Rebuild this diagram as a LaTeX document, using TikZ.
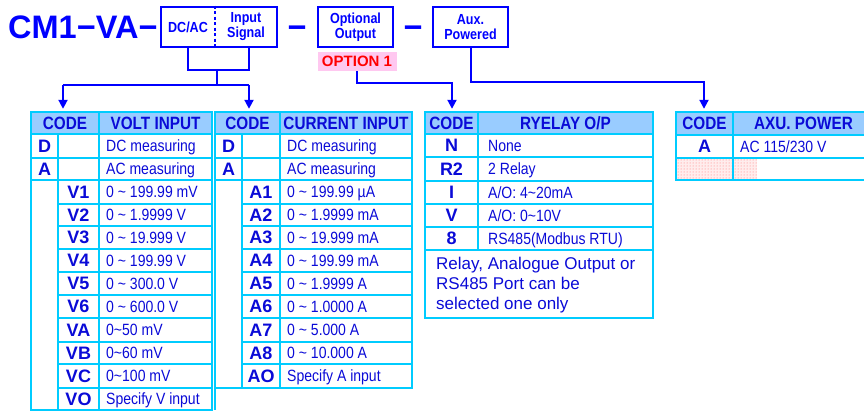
\documentclass[tikz,border=0pt]{standalone}
\usepackage{fontspec}
\setmainfont{Liberation Sans}
\newfontfamily\nf[FakeStretch=0.86]{Liberation Sans}
\usetikzlibrary{arrows.meta,patterns}
\definecolor{lnblue}{RGB}{0,0,255}
\definecolor{txtblue}{RGB}{10,10,215}
\definecolor{tblcyan}{RGB}{0,204,255}
\definecolor{hdrfill}{RGB}{153,204,255}
\definecolor{optpink}{RGB}{255,200,240}
\definecolor{optred}{RGB}{255,0,0}
\tikzset{
  tline/.style={draw=tblcyan, line width=2.4pt},
  conn/.style={draw=lnblue, line width=2pt},
  arr/.style={conn, -{Triangle[width=9pt,length=9pt]}, shorten >=3pt},
  codebox/.style={draw=lnblue, line width=2.6pt, inner sep=0pt},
  boxtxt/.style={text=lnblue, font=\nf\bfseries\fontsize{14.6}{15}\selectfont, align=center, inner sep=0pt},
  hdr/.style={text=txtblue, font=\nf\bfseries\fontsize{17.8}{18}\selectfont, inner sep=0pt, text depth=0pt},
  code/.style={text=txtblue, font=\bfseries\fontsize{18}{18}\selectfont, inner sep=0pt, text height=12.9pt, text depth=0pt},
  desc/.style={text=txtblue, font=\nf\fontsize{16.3}{17}\selectfont, inner sep=0pt, anchor=west, text height=11.7pt, text depth=0pt},
}
\begin{document}
\begin{tikzpicture}[x=1pt,y=-1pt]
\clip (0,0) rectangle (864,412);
\useasboundingbox (0,0) rectangle (864,412);

% ---------- code line ----------
\node[anchor=base west, inner sep=0pt, text=lnblue, font=\bfseries\fontsize{32.5}{34}\selectfont] (title) at (8,39) {CM1−VA−};
\node[codebox, minimum width=116, minimum height=40] (b1) at (219,27) {};
\draw[lnblue, line width=1.8pt, dash pattern=on 3pt off 2.5pt] (b1.north -| 215,0) -- (b1.south -| 215,0);
\node[boxtxt] (b1a) at (188,27) {DC/AC};
\node[boxtxt] (b1b) at (246,27) {Input\\Signal};
\node[anchor=base, inner sep=0pt, text=lnblue, font=\bfseries\fontsize{32.5}{34}\selectfont] (d1) at (297,39) {−};
\node[codebox, boxtxt, minimum width=75, minimum height=40] (b2) at (355.5,27) {Optional\\Output};
\node[anchor=base, inner sep=0pt, text=lnblue, font=\bfseries\fontsize{32.5}{34}\selectfont] (d2) at (413,39) {−};
\node[codebox, boxtxt, minimum width=75, minimum height=40] (b3) at (470.5,27) {Aux.\\Powered};
\node[fill=optpink, text=optred, font=\bfseries\fontsize{15}{15}\selectfont, minimum width=79, minimum height=19, inner sep=0pt, text height=10.7pt, text depth=0pt] (opt) at (357,61.5) {OPTION 1};

% ---------- volt table ----------
\fill[hdrfill] (31,112) rectangle (212,134);
\draw[tline] (31,112) rectangle (212,410);
\foreach \y in {134,158,180} \draw[tline] (31,\y) -- (212,\y);
\foreach \y in {204,226,249,272,295,318,342,364,388} \draw[tline] (58,\y) -- (212,\y);
\draw[tline] (99,112) -- (99,410);
\draw[tline] (58,134) -- (58,410);
\node[hdr, minimum width=68, minimum height=22] (vcode) at (65,123) {CODE};
\node[hdr] (vhead) at (155.5,123) {VOLT INPUT};
\node[code] (vD) at (44.5,146) {D};
\node[code] (vA) at (44.5,169) {A};
\node[desc] (vDt) at (106,146) {DC measuring};
\node[desc] (vAt) at (106,169) {AC measuring};
\foreach \c/\t/\y [count=\i] in {
  V1/{0 \textasciitilde{} 199.99 mV}/192,
  V2/{0 \textasciitilde{} 1.9999 V}/215,
  V3/{0 \textasciitilde{} 19.999 V}/237.5,
  V4/{0 \textasciitilde{} 199.99 V}/260.5,
  V5/{0 \textasciitilde{} 300.0 V}/283.5,
  V6/{0 \textasciitilde{} 600.0 V}/306.5,
  VA/{0\textasciitilde{}50 mV}/330,
  VB/{0\textasciitilde{}60 mV}/353,
  VC/{0\textasciitilde{}100 mV}/376,
  VO/{Specify V input}/399}{
  \node[code] (vk\i) at (78.5,\y) {\c};
  \node[desc] (vt\i) at (106,\y) {\t};
}

% ---------- current table ----------
\fill[hdrfill] (215,112) rectangle (412,134);
\draw[tline] (215,112) rectangle (412,388);
\draw[tline] (215,388) -- (215,410);
\foreach \y in {134,158,180} \draw[tline] (215,\y) -- (412,\y);
\foreach \y in {204,226,249,272,295,318,342,364} \draw[tline] (242,\y) -- (412,\y);
\draw[tline] (280,112) -- (280,388);
\draw[tline] (242,134) -- (242,388);
\node[hdr, minimum width=65, minimum height=22] (ccode) at (247.5,123) {CODE};
\node[hdr] (chead) at (346,123) {CURRENT INPUT};
\node[code] (cD) at (228.5,146) {D};
\node[code] (cA) at (228.5,169) {A};
\node[desc] (cDt) at (287,146) {DC measuring};
\node[desc] (cAt) at (287,169) {AC measuring};
\foreach \c/\t/\y [count=\i] in {
  A1/{0 \textasciitilde{} 199.99 µA}/192,
  A2/{0 \textasciitilde{} 1.9999 mA}/215,
  A3/{0 \textasciitilde{} 19.999 mA}/237.5,
  A4/{0 \textasciitilde{} 199.99 mA}/260.5,
  A5/{0 \textasciitilde{} 1.9999 A}/283.5,
  A6/{0 \textasciitilde{} 1.0000 A}/306.5,
  A7/{0 \textasciitilde{} 5.000 A}/330,
  A8/{0 \textasciitilde{} 10.000 A}/353,
  AO/{Specify A input}/376}{
  \node[code] (ck\i) at (261,\y) {\c};
  \node[desc] (ct\i) at (287,\y) {\t};
}

% ---------- relay table ----------
\fill[hdrfill] (425,112) rectangle (653,134);
\draw[tline] (425,112) rectangle (653,318);
\foreach \y in {134,157,181,204,227,250} \draw[tline] (425,\y) -- (653,\y);
\draw[tline] (478,112) -- (478,250);
\node[hdr, minimum width=53, minimum height=22] (rcode) at (451.5,123) {CODE};
\node[hdr] (rhead) at (565.5,123) {RYELAY O/P};
\node[code] (rk1) at (451.5,145.5) {N};
\node[code] (rk2) at (451.5,169) {R2};
\node[code] (rk3) at (451.5,192.5) {I};
\node[code] (rk4) at (451.5,215.5) {V};
\node[code] (rk5) at (451.5,238.5) {8};
\node[desc] (rt1) at (488,145.5) {None};
\node[desc] (rt2) at (488,169) {2 Relay};
\node[desc] (rt3) at (488,192.5) {A/O: 4\textasciitilde{}20mA};
\node[desc] (rt4) at (488,215.5) {A/O: 0\textasciitilde{}10V};
\node[desc] (rt5) at (488,238.5) {RS485(Modbus RTU)};
\node[anchor=base west, inner sep=0pt, text=txtblue, align=left, font=\fontsize{17}{20}\selectfont] (rnote) at (436,309) {Relay, Analogue Output or\\RS485 Port can be\\selected one only};

% ---------- aux table ----------
\fill[hdrfill] (676,112) rectangle (874,135);
\fill[red!7] (676,158) rectangle (757,180);
\fill[pattern=dots, pattern color=red!55] (676,158) rectangle (757,180);
\draw[tline] (676,112) rectangle (874,180);
\foreach \y in {135,158} \draw[tline] (676,\y) -- (874,\y);
\draw[tline] (733,112) -- (733,180);
\node[hdr, minimum width=57, minimum height=23] (acode) at (704.5,123.5) {CODE};
\node[hdr] (ahead) at (803.5,123.5) {AXU. POWER};
\node[code] (ak1) at (704.5,146.5) {A};
\node[desc] (at1) at (740,146.5) {AC 115/230 V};

% ---------- connectors ----------
\coordinate (j1) at (188,70);
\coordinate (j2) at (249,70);
\coordinate (jm) at (217,70);
\coordinate (jb) at (217,85);
\coordinate (jl) at (63,85);
\coordinate (jr) at (249,85);
\draw[conn] (b1.south -| j1) -- (j1) -- (j2) -- (b1.south -| j2);
\draw[conn] (jm) -- (jb);
\draw[conn] (jl) -- (jr);
\draw[arr] (jl) -- (jl |- vcode.north);
\draw[arr] (jr) -- (jr |- ccode.north);
\coordinate (ro) at (452,83);
\draw[arr] (opt.south) |- (ro) -- (ro |- rcode.north);
\coordinate (ao) at (704,82);
\draw[arr] (b3.south) |- (ao) -- (ao |- acode.north);
\end{tikzpicture}
\end{document}
